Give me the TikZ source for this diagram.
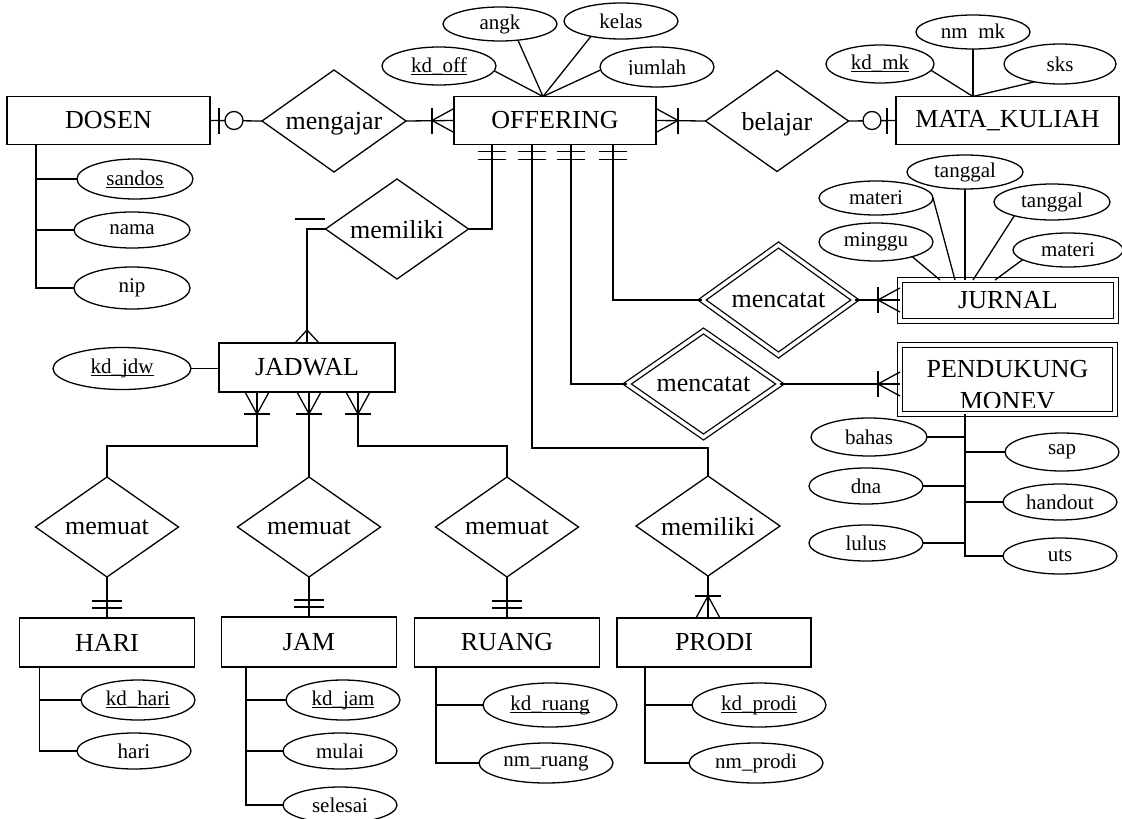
\documentclass[tikz,border=0pt]{standalone}
\usepackage{fontspec}
\setmainfont{Liberation Serif}
\usetikzlibrary{shapes.geometric,calc}
% underlined key attribute
\newcommand\keyattr[1]{\sbox0{#1}\rlap{\rule[-2.4pt]{\wd0}{0.9pt}}\usebox0}

\begin{document}
\begin{tikzpicture}[x=1pt,y=-1pt,line width=1.3pt,
  entity/.style={draw,rectangle,inner sep=0pt,outer sep=0pt,minimum height=48pt,
    font=\fontsize{26}{30}\selectfont},
  weak/.style={entity,double,double distance=3.5pt},
  rel/.style={draw,diamond,aspect=1.43,inner sep=0pt,outer sep=0pt,text depth=0pt,
    minimum width=143pt,minimum height=100pt,font=\fontsize{26}{30}\selectfont},
  weakrel/.style={rel,double,double distance=3.5pt},
  attr/.style={draw,ellipse,inner sep=0pt,outer sep=0pt,minimum width=114pt,
    minimum height=36pt,font=\fontsize{21}{24}\selectfont},
  lbl/.style={inner sep=0pt,outer sep=0pt},
  crowbar/.pic={\draw (0,-12) -- (22,0) -- (0,12); \draw (22,-13) -- (22,13);},
  crowonly/.pic={\draw (0,-12) -- (13,0) -- (0,12);},
  twobars/.pic={\draw (7,-14) -- (7,14) (15,-14) -- (15,14);},
  twobarsfar/.pic={\draw (10,-15) -- (10,15) (17,-15) -- (17,15);},
  barcircle/.pic={\draw (9,-13) -- (9,13); \draw[fill=white] (24,0) circle[radius=9];}
]
\fill[white] (0,0) rectangle (1122,819);
\useasboundingbox (0,0) rectangle (1122,819);

% ---------- entities ----------
\node[entity,minimum width=203pt] (DOSEN) at (108.5,120.5) {DOSEN};
\node[entity,minimum width=202pt] (OFFERING) at (555,120.5) {OFFERING};
\node[entity,minimum width=223pt] (MK) at (1007.5,120.5) {MATA\_KULIAH};
\node[entity,minimum width=176pt,minimum height=49pt] (JADWAL) at (307,367.5) {JADWAL};
\node[entity,minimum width=175pt,minimum height=49pt] (HARI) at (107,642.5) {HARI};
\node[entity,minimum width=175pt,minimum height=50pt] (JAM) at (309,642) {JAM};
\node[entity,minimum width=185pt,minimum height=49pt] (RUANG) at (507,642.5) {RUANG};
\node[entity,minimum width=194pt,minimum height=49pt] (PRODI) at (714,642.5) {PRODI};
\node[weak,minimum width=216pt,minimum height=41pt] (JURNAL) at (1008,300.5) {JURNAL};
\node[weak,minimum width=215pt,minimum height=69pt] (MONEV) at (1007.5,379.5) {};

% ---------- relationships ----------
\node[rel,minimum width=144pt,minimum height=102pt] (mengajar) at (334,121) {mengajar};
\node[rel,minimum height=101pt] (belajar) at (777,121) {belajar};
\node[rel] (memilikiJ) at (397,229) {memiliki};
\node[weakrel,minimum width=153pt,minimum height=110pt] (mencatatA) at (778.5,300) {mencatat};
\node[weakrel,minimum width=153pt,minimum height=106pt] (mencatatB) at (703.5,384) {mencatat};
\node[rel,minimum width=144pt] (memilikiP) at (708,526) {memiliki};
\node[rel] (memuatH) at (107,527) {memuat};
\node[rel] (memuatJ) at (309,527) {memuat};
\node[rel] (memuatR) at (507,527) {memuat};

% ---------- attributes ----------
\node[attr,minimum height=38pt] (kdoff) at (439,66) {\keyattr{kd\_off}};
\node[attr,minimum height=34pt] (angk) at (500,24) {angk};
\node[attr] (kelas) at (621,21) {kelas};
\node[attr,minimum height=40pt] (jumlah) at (657,67) {};
\node[attr,minimum width=108pt,minimum height=38pt] (kdmk) at (880,64) {\keyattr{kd\_mk}};
\node[attr,minimum height=34pt] (nmmk) at (973,32) {};
\node[attr,minimum width=112pt,minimum height=40pt] (sks) at (1060,64) {sks};

\node[attr,minimum width=116pt,minimum height=34pt] (tanggalT) at (965,172) {tanggal};
\node[attr,minimum height=34pt] (materiL) at (876,198) {materi};
\node[attr,minimum width=116pt] (tanggalR) at (1052,202) {tanggal};
\node[attr,minimum height=38pt] (minggu) at (876,242) {minggu};
\node[attr,minimum width=110pt,minimum height=34pt] (materiR) at (1068,250) {materi};

\node[attr,minimum width=116pt,minimum height=40pt] (sandos) at (135,179) {\keyattr{sandos}};
\node[attr,minimum width=116pt] (nama) at (132,230) {nama};
\node[attr,minimum width=116pt,minimum height=42pt] (nip) at (132,288) {nip};
\node[attr,minimum width=138pt,minimum height=42pt] (kdjdw) at (122,368.5) {\keyattr{kd\_jdw}};

\node[attr,minimum width=116pt,minimum height=38pt] (bahas) at (869,437) {bahas};
\node[attr,minimum height=38pt] (sap) at (1062,452) {sap};
\node[attr] (dna) at (866,486) {dna};
\node[attr] (handout) at (1060,502) {handout};
\node[attr] (lulus) at (866,543) {lulus};
\node[attr] (uts) at (1060,556) {uts};

\node[attr,minimum height=40pt] (kdhari) at (138,700) {\keyattr{kd\_hari}};
\node[attr] (hari) at (134,751) {hari};
\node[attr,minimum height=40pt] (kdjam) at (343,700) {\keyattr{kd\_jam}};
\node[attr] (mulai) at (340,751) {mulai};
\node[attr] (selesai) at (340,805) {selesai};
\node[attr,minimum width=134pt,minimum height=44pt] (kdruang) at (550,705) {\keyattr{kd\_ruang}};
\node[attr,minimum width=134pt,minimum height=40pt] (nmruang) at (546,763) {nm\_ruang};
\node[attr,minimum width=134pt,minimum height=44pt] (kdprodi) at (759,705) {\keyattr{kd\_prodi}};
\node[attr,minimum width=134pt,minimum height=40pt] (nmprodi) at (756,763) {nm\_prodi};

% labels cut off by their frames
\begin{scope}
  \clip (600,47) rectangle (714,74.8);
  \node[lbl,anchor=base,font=\fontsize{21}{24}\selectfont] (jumlahlbl) at (657,74) {jumlah};
\end{scope}
\begin{scope}
  \clip (916,14) rectangle (1030,38.5);
  \node[lbl,anchor=base,font=\fontsize{21}{24}\selectfont] (nmmklbl) at (973,38) {nm\_mk};
\end{scope}
\node[lbl,anchor=base,font=\fontsize{26}{30}\selectfont] (monevlblA) at (1007.5,377) {PENDUKUNG};
\begin{scope}
  \clip (904,385) rectangle (1111,407);
  \node[lbl,anchor=base,font=\fontsize{26}{30}\selectfont] (monevlblB) at (1007.5,409) {MONEV};
\end{scope}

% ---------- relationship connectors ----------
\draw (DOSEN.east) -- (mengajar.west);
\draw (mengajar.east) -- (OFFERING.west);
\draw (OFFERING.east) -- (belajar.west);
\draw (belajar.east) -- (MK.west);

\coordinate (o1) at ([xshift=-63pt]OFFERING.south);
\coordinate (o2) at ([xshift=-23pt]OFFERING.south);
\coordinate (o3) at ([xshift=16pt]OFFERING.south);
\coordinate (o4) at ([xshift=58pt]OFFERING.south);
\draw (o1) |- (memilikiJ.east);
\draw (o2) |- ([yshift=28pt]memilikiP.north) -- (memilikiP.north);
\draw (o3) |- (mencatatB.west);
\draw (o4) |- (mencatatA.west);
\draw (mencatatA.east) -- (mencatatA.east -| JURNAL.west);
\draw (mencatatB.east) -- (mencatatB.east -| MONEV.west);

\draw (memilikiJ.west) -| (JADWAL.north);
\draw ([xshift=-31pt,yshift=10pt]memilikiJ.west) -- ++(30,0);
\draw (kdjdw.east) -- (kdjdw.east -| JADWAL.west);

\coordinate (j1) at ([xshift=-50pt]JADWAL.south);
\coordinate (j2) at ([xshift=2pt]JADWAL.south);
\coordinate (j3) at ([xshift=51pt]JADWAL.south);
\draw (j1) |- ([yshift=31pt]memuatH.north) -- (memuatH.north);
\draw (j2) -- (memuatJ.north);
\draw (j3) |- ([yshift=31pt]memuatR.north) -- (memuatR.north);
\draw (memuatH.south) -- (HARI.north);
\draw (memuatJ.south) -- (JAM.north);
\draw (memuatR.south) -- (RUANG.north);
\draw (memilikiP.south) -- (memilikiP.south |- PRODI.north);

% ---------- cardinality marks ----------
\pic at (DOSEN.east) {barcircle};
\pic[rotate=180] at (MK.west) {barcircle};
\pic[rotate=180] at (OFFERING.west) {crowbar};
\pic at (OFFERING.east) {crowbar};
\pic[rotate=180] at (mencatatA.east -| JURNAL.west) {crowbar};
\pic[rotate=180] at (mencatatB.east -| MONEV.west) {crowbar};
\pic[rotate=-90] at (o1) {twobars};
\pic[rotate=-90] at (o2) {twobars};
\pic[rotate=-90] at (o3) {twobars};
\pic[rotate=-90] at (o4) {twobars};
\pic[rotate=90] at (JADWAL.north) {crowonly};
\pic[rotate=-90] at (j1) {crowbar};
\pic[rotate=-90] at (j2) {crowbar};
\pic[rotate=-90] at (j3) {crowbar};
\pic[rotate=90] at (HARI.north) {twobarsfar};
\pic[rotate=90] at (JAM.north) {twobarsfar};
\pic[rotate=90] at (RUANG.north) {twobarsfar};
\pic[rotate=90] at (memilikiP.south |- PRODI.north) {crowbar};

% ---------- attribute connectors ----------
\coordinate (offtop) at ([xshift=-12pt]OFFERING.north);
\draw (kdoff.-5) -- (offtop);
\draw (angk.-42) -- (offtop);
\draw (kelas.-153) -- (offtop);
\draw (jumlah.-177) -- (offtop);

\coordinate (mktop) at ([xshift=-34.5pt]MK.north);
\draw (kdmk.-7) -- (mktop);
\draw (nmmk.south) -- (mktop);
\draw (sks.-145) -- (mktop);

\draw (minggu.-22) -- ([xshift=-68pt]JURNAL.north);
\draw (materiL.east) -- ([xshift=-53pt]JURNAL.north);
\draw (tanggalT.south) -- (tanggalT.south |- JURNAL.north);
\draw (tanggalR.-160) -- ([xshift=-35pt]JURNAL.north);
\draw (materiR.-168) -- ([xshift=-13pt]JURNAL.north);

\coordinate (mt) at ([xshift=-42.5pt]MONEV.south);
\draw (mt) |- (uts.west);
\draw (bahas.east) -- (bahas.east -| mt);
\draw (dna.east) -- (dna.east -| mt);
\draw (lulus.east) -- (lulus.east -| mt);
\draw (sap.west) -- (sap.west -| mt);
\draw (handout.west) -- (handout.west -| mt);

\coordinate (dt) at ([xshift=29pt]DOSEN.south west);
\draw (dt) |- (nip.west);
\draw (sandos.west) -- (sandos.west -| dt);
\draw (nama.west) -- (nama.west -| dt);

\coordinate (ht) at ([xshift=20pt]HARI.south west);
\draw (ht) |- (hari.west);
\draw (kdhari.west) -- (kdhari.west -| ht);

\coordinate (jt) at ([xshift=24.5pt]JAM.south west);
\draw (jt) |- (selesai.west);
\draw (kdjam.west) -- (kdjam.west -| jt);
\draw (mulai.west) -- (mulai.west -| jt);

\coordinate (rt) at ([xshift=21.5pt]RUANG.south west);
\draw (rt) |- (nmruang.west);
\draw (kdruang.west) -- (kdruang.west -| rt);

\coordinate (pt) at ([xshift=28pt]PRODI.south west);
\draw (pt) |- (nmprodi.west);
\draw (kdprodi.west) -- (kdprodi.west -| pt);
\end{tikzpicture}
\end{document}
